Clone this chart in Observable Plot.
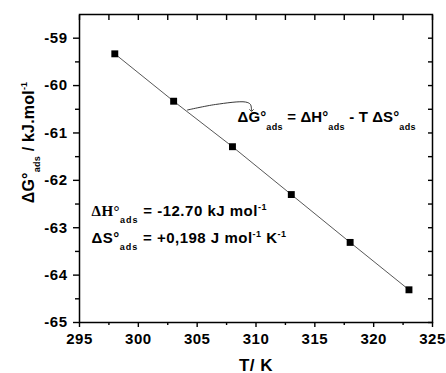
<!DOCTYPE html>
<html><head><meta charset="utf-8">
<script src="https://cdn.jsdelivr.net/npm/d3@7"></script>
<script src="https://cdn.jsdelivr.net/npm/@observablehq/plot@0.6"></script>
<style>body{margin:0;background:#fff;} #chart svg{display:block;}</style>
</head><body><div id="chart"></div>
<script>
// ---- data ----
const temperature = [298, 303, 308, 313, 318, 323];
const deltaG = [-59.33, -60.33, -61.29, -62.30, -63.31, -64.31];
const xTickValues = [295, 300, 305, 310, 315, 320, 325];
const xMinorTicks = [297.5, 302.5, 307.5, 312.5, 317.5, 322.5];
const yTickValues = [-65, -64, -63, -62, -61, -60, -59];
const yMinorTicks = [-64.5, -63.5, -62.5, -61.5, -60.5, -59.5];
const yLabelText = "ΔG°|_ads| / kJ.mol|^-1";
const xLabelText = "T/ K";
const annotationText = [
  "ΔG°|_ads| = ΔH°|_ads| - T ΔS°|_ads",
  "~ΔH°|_ads| = -12.70 kJ mol|^-1",
  "ΔS°|_ads| = +0,198 J mol|^-1| K|^-1"
];
const annotationX = [308.43, 296.02, 296.02];
const annotationY = [-60.663, -62.657, -63.217];
const arrowX = [304.18, 306.56, 309.11, 309.53, 309.62];
const arrowY = [-60.515, -60.399, -60.347, -60.399, -60.526];

// ---- helpers ----
const plain = m => m.split("|").map(t => /^[_^~]/.test(t) ? t.slice(1) : t).join("");
const data = temperature.map((T, i) => ({T, dG: deltaG[i]}));
const arrowPts = arrowX.map((x, i) => ({x, y: arrowY[i]}));
const annIdx = annotationText.map((_, i) => i);
const allX = xTickValues.concat(xMinorTicks);
const allY = yTickValues.concat(yMinorTicks);

const plot = Plot.plot({
  width: 446, height: 373,
  marginLeft: 79, marginRight: 14, marginTop: 14, marginBottom: 51,
  x: {domain: [295, 325]},
  y: {domain: [-65, -58.5]},
  style: {fontFamily: "'Liberation Sans', Arial, sans-serif", fontSize: "15px", fontWeight: "bold", color: "#000", background: "#fff", overflow: "visible"},
  marks: [
    Plot.axisX(xTickValues, {anchor: "bottom", tickSize: 5, tickPadding: 6, tickFormat: d => String(d), label: null, strokeWidth: 1.4}),
    Plot.axisX(xMinorTicks, {anchor: "bottom", tickSize: 3, tickFormat: () => "", label: null, strokeWidth: 1.4}),
    Plot.axisX(allX, {anchor: "top", tickSize: 5, dy: 5, tickFormat: () => "", label: null, strokeWidth: 1.4}),
    Plot.axisY(yTickValues, {anchor: "left", tickSize: 6, tickPadding: 6, tickFormat: d => String(d), label: null, strokeWidth: 1.4}),
    Plot.axisY(yMinorTicks, {anchor: "left", tickSize: 4, tickFormat: () => "", label: null, strokeWidth: 1.4}),
    Plot.axisY(allY, {anchor: "right", tickSize: 5, dx: -5, tickFormat: () => "", label: null, strokeWidth: 1.4}),
    Plot.frame({stroke: "#000", strokeWidth: 1.5}),
    Plot.line(data, {x: "T", y: "dG", stroke: "#444", strokeWidth: 0.9}),
    Plot.dot(data, {x: "T", y: "dG", symbol: "square", r: 3.9, fill: "#000", stroke: "none"}),
    Plot.line(arrowPts, {x: "x", y: "y", curve: "catmull-rom", stroke: "#222", strokeWidth: 0.9, markerEnd: "arrow"}),
    Plot.text(annIdx, {x: i => annotationX[i], y: i => annotationY[i], text: i => plain(annotationText[i]), textAnchor: "start", lineAnchor: "middle", fontSize: 15, fontWeight: "bold"}),
    Plot.text([0], {frameAnchor: "left", dx: -51, dy: -26, rotate: -90, text: () => plain(yLabelText), textAnchor: "middle", lineAnchor: "middle", fontSize: 16, fontWeight: "bold"}),
    Plot.text([0], {frameAnchor: "bottom", dy: 42.6, text: () => xLabelText, textAnchor: "middle", lineAnchor: "middle", fontSize: 17, fontWeight: "bold"})
  ]
});
document.getElementById("chart").append(plot);

// rich text: subscripts, superscripts, serif pieces
function rich(markup, subShift, supShift, subLs, spacing) {
  const target = plain(markup);
  d3.select(plot).selectAll("text").filter(function() { return this.textContent === target; }).each(function() {
    const el = d3.select(this);
    el.selectAll("*").remove();
    el.text(null);
    if (spacing) el.attr("letter-spacing", spacing);
    let cur = 0;
    for (const tok of markup.split("|")) {
      let want = 0, txt = tok, size = null, fam = null, ls = null;
      if (tok[0] === "_") { want = subShift; txt = tok.slice(1); size = 9; ls = subLs; }
      else if (tok[0] === "^") { want = supShift; txt = tok.slice(1); size = 9; }
      else if (tok[0] === "~") { txt = tok.slice(1); fam = "'Liberation Serif', 'Times New Roman', serif"; }
      const ts = el.append("tspan").text(txt);
      if (want !== cur) ts.attr("dy", want - cur);
      cur = want;
      if (size) ts.attr("font-size", size);
      if (fam) ts.attr("font-family", fam);
      if (ls) ts.attr("letter-spacing", ls);
    }
  });
}
d3.select(plot).style("letter-spacing", "0.5px");
annotationText.forEach((m, i) => rich(m, i === 0 ? 8 : 7, -6, i === 0 ? "0.4px" : "1px", i === 0 ? "0.1px" : null));
rich(yLabelText, 6, -7, "0.3px", "0.2px");
</script>
</body></html>
